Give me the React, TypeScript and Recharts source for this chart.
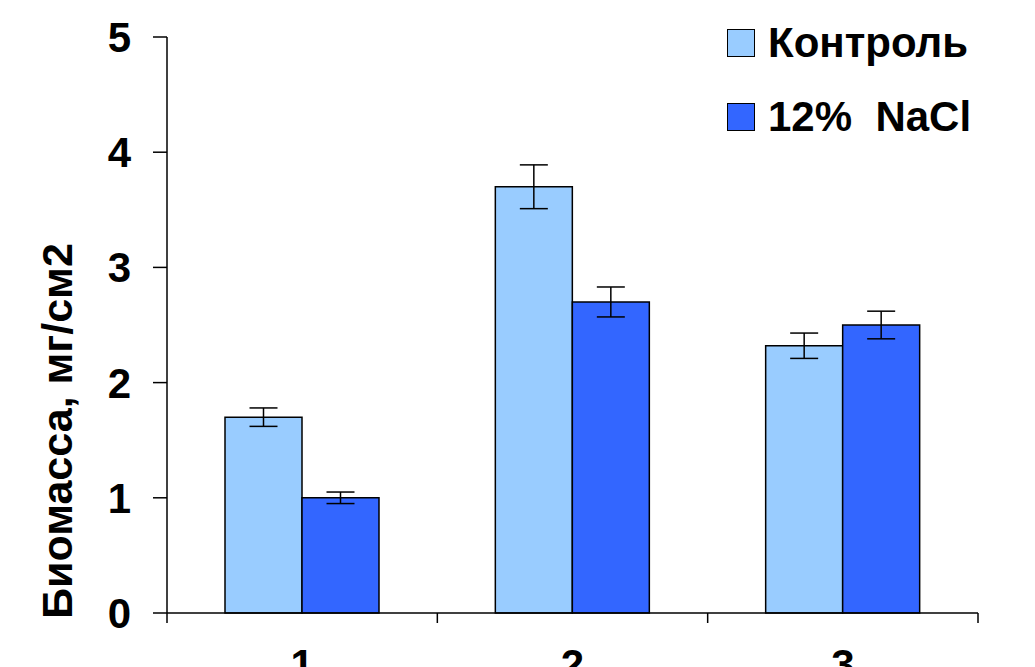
import React from 'react'
import { BarChart, Bar, XAxis, YAxis, ErrorBar } from 'recharts'

const categories = ['1', '2', '3']
const control = [1.7, 3.7, 2.32]
const controlErr = [0.08, 0.19, 0.11]
const nacl = [1.0, 2.7, 2.5]
const naclErr = [0.05, 0.13, 0.12]
const yTicks = [0, 1, 2, 3, 4, 5]

const SERIES = [
  { key: 'control', label: 'Контроль', color: '#99CCFF' },
  { key: 'nacl',    label: '12%  NaCl', color: '#3366FF' },
]

const data = categories.map((c, i) => ({
  name: c,
  control: control[i],
  controlErr: controlErr[i],
  nacl: nacl[i],
  naclErr: naclErr[i],
}))

const FONT = '"Liberation Sans", Arial, sans-serif'
const W = 1019
const H = 659
const MARGIN = { top: 29, right: 49, left: 59, bottom: 0 }
const Y_W = 100
const BAND = (W - MARGIN.left - MARGIN.right - Y_W) / categories.length

function XTick(props: any) {
  const { x, y, payload, index } = props
  const half = BAND / 2
  return (
    <g>
      <line x1={x - half} x2={x - half} y1={y} y2={y + 10} stroke="#000" strokeWidth={1.5} />
      {index === categories.length - 1 && (
        <line x1={x + half} x2={x + half} y1={y} y2={y + 10} stroke="#000" strokeWidth={1.5} />
      )}
      <text x={x} y={y + 66} textAnchor="middle" fontFamily={FONT} fontWeight="bold" fontSize={42} fill="#000">
        {payload.value}
      </text>
    </g>
  )
}

function YLabel(props: any) {
  const { viewBox } = props
  const cx = viewBox.x - 10
  const cy = viewBox.y + viewBox.height / 2 + 106
  return (
    <text
      x={cx}
      y={cy}
      transform={`rotate(-90, ${cx}, ${cy})`}
      textAnchor="middle"
      dominantBaseline="central"
      fontFamily={FONT}
      fontWeight="bold"
      fontSize={43}
      fill="#000"
    >
      Биомасса, мг/см2
    </text>
  )
}

function LegendBox() {
  return (
    <div style={{ position: 'absolute', top: -2, left: 719, fontFamily: FONT }}>
      {SERIES.map(s => (
        <div key={s.key} style={{ display: 'flex', alignItems: 'center', height: 74 }}>
          <span
            style={{
              width: 26,
              height: 26,
              background: s.color,
              border: '1.5px solid #000',
              marginRight: 13,
              display: 'inline-block',
            }}
          />
          <span style={{ fontSize: 42, fontWeight: 'bold', color: '#000', whiteSpace: 'pre' }}>
            {s.label}
          </span>
        </div>
      ))}
    </div>
  )
}

export default function App() {
  return (
    <div style={{ position: 'relative', width: W, height: H }}>
      <BarChart width={W} height={H} data={data} margin={MARGIN} barGap={0} barSize={77}>
        <XAxis
          dataKey="name"
          height={54}
          axisLine={{ stroke: '#000', strokeWidth: 1.5 }}
          tickLine={false}
          tickSize={0}
          tickMargin={0}
          tick={<XTick />}
          interval={0}
        />
        <YAxis
          width={Y_W}
          domain={[0, 5]}
          ticks={yTicks}
          interval={0}
          axisLine={{ stroke: '#000', strokeWidth: 1.5 }}
          tickLine={{ stroke: '#000', strokeWidth: 1.5 }}
          tickSize={14}
          tickMargin={22}
          tick={{ fill: '#000', fontSize: 42, fontWeight: 'bold', fontFamily: FONT }}
          label={<YLabel />}
        />
        {SERIES.map(s => (
          <Bar
            key={s.key}
            dataKey={s.key}
            name={s.label}
            fill={s.color}
            stroke="#000"
            strokeWidth={1.5}
            isAnimationActive={false}
          >
            <ErrorBar dataKey={s.key + 'Err'} width={14} stroke="#000" strokeWidth={1.5} direction="y" />
          </Bar>
        ))}
      </BarChart>
      <LegendBox />
    </div>
  )
}
